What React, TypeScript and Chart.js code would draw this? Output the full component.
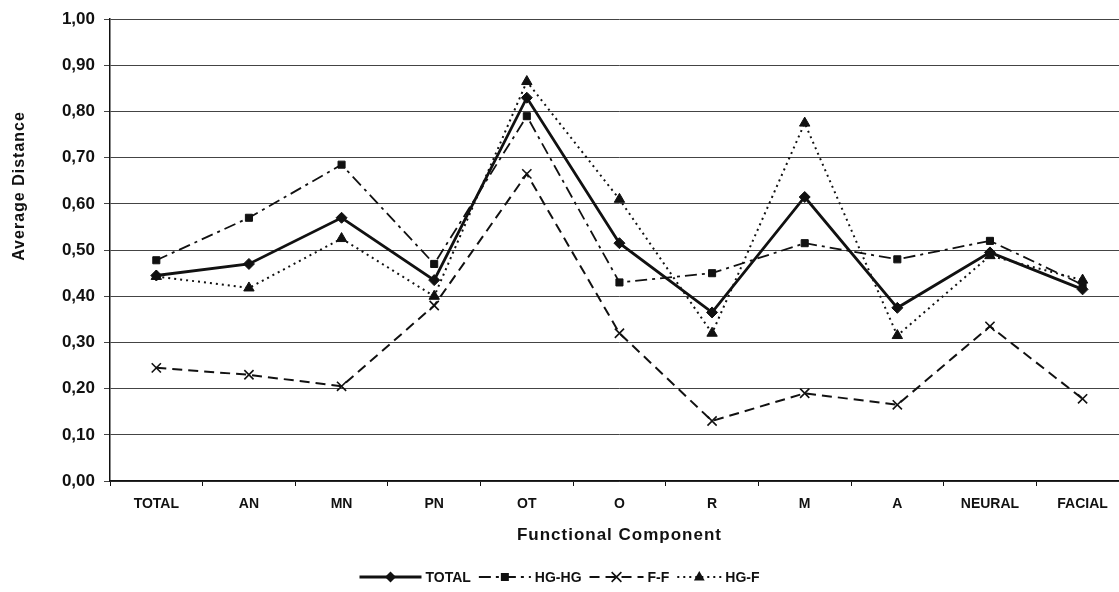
import React, { useEffect, useRef } from "react";
import { Chart, registerables } from "chart.js";

Chart.register(...registerables);

const categories = ["TOTAL", "AN", "MN", "PN", "OT", "O", "R", "M", "A", "NEURAL", "FACIAL"];
const totalValues = [0.445, 0.47, 0.57, 0.435, 0.83, 0.515, 0.365, 0.615, 0.375, 0.495, 0.415];
const hgHgValues = [0.478, 0.57, 0.685, 0.47, 0.79, 0.43, 0.45, 0.515, 0.48, 0.52, 0.425];
const ffValues = [0.245, 0.23, 0.205, 0.38, 0.665, 0.32, 0.13, 0.19, 0.165, 0.335, 0.178];
const hgFValues = [0.443, 0.418, 0.525, 0.4, 0.865, 0.61, 0.32, 0.775, 0.315, 0.488, 0.435];
const yTicks = [0, 0.1, 0.2, 0.3, 0.4, 0.5, 0.6, 0.7, 0.8, 0.9, 1.0];
const xTitle = "Functional Component";
const yTitle = "Average Distance";

const FONT = "'Liberation Sans', Arial, sans-serif";
const INK = "#111";
const CANVAS_W = 1137;
const VIEW_W = 1119;

const seriesDefs = [
  { label: "TOTAL", data: totalValues, dash: [], width: 2.8, style: "rectRot", radius: 5.5, sample: 62 },
  { label: "HG-HG", data: hgHgValues, dash: [12, 5, 3, 5], width: 1.8, style: "rect", radius: 5, sample: 52 },
  { label: "F-F", data: ffValues, dash: [10, 6], width: 2, style: "crossRot", radius: 6.5, sample: 54 },
  { label: "HG-F", data: hgFValues, dash: [2, 4], width: 2, style: "triangle", radius: 6, sample: 44 },
];

function drawMarker(ctx: CanvasRenderingContext2D, style: string, x: number, y: number, r: number) {
  ctx.beginPath();
  if (style === "rectRot") {
    ctx.moveTo(x, y - r);
    ctx.lineTo(x + r, y);
    ctx.lineTo(x, y + r);
    ctx.lineTo(x - r, y);
    ctx.closePath();
    ctx.fill();
  } else if (style === "rect") {
    ctx.rect(x - r * 0.8, y - r * 0.8, r * 1.6, r * 1.6);
    ctx.fill();
  } else if (style === "crossRot") {
    const d = r * 0.75;
    ctx.moveTo(x - d, y - d);
    ctx.lineTo(x + d, y + d);
    ctx.moveTo(x + d, y - d);
    ctx.lineTo(x - d, y + d);
    ctx.stroke();
  } else if (style === "triangle") {
    ctx.moveTo(x, y - r);
    ctx.lineTo(x + r * 0.9, y + r * 0.6);
    ctx.lineTo(x - r * 0.9, y + r * 0.6);
    ctx.closePath();
    ctx.fill();
  }
}

const annotationsPlugin = {
  id: "customTextAndLegend",
  afterDraw(chart: any) {
    const ctx = chart.ctx;
    const area = chart.chartArea;
    ctx.save();
    ctx.fillStyle = INK;
    // x title
    ctx.font = `bold 17px ${FONT}`;
    (ctx as any).letterSpacing = "1px";
    ctx.textAlign = "center";
    ctx.textBaseline = "middle";
    ctx.fillText(xTitle, (area.left + area.right) / 2, 535);
    // y title
    ctx.save();
    ctx.translate(20, 186);
    ctx.rotate(-Math.PI / 2);
    ctx.font = `bold 16px ${FONT}`;
    ctx.fillText(yTitle, 0, 0);
    ctx.restore();
    (ctx as any).letterSpacing = "0px";

    // legend
    const y = 577;
    ctx.font = `bold 14px ${FONT}`;
    ctx.textAlign = "left";
    const gap = 4;
    const itemGap = 8;
    const widths = seriesDefs.map((s) => s.sample + gap + ctx.measureText(s.label).width);
    const total = widths.reduce((a, b) => a + b, 0) + itemGap * (seriesDefs.length - 1);
    let x = VIEW_W / 2 - total / 2;
    seriesDefs.forEach((s, i) => {
      ctx.strokeStyle = INK;
      ctx.fillStyle = INK;
      ctx.lineWidth = s.width;
      ctx.setLineDash(s.dash);
      ctx.beginPath();
      ctx.moveTo(x, y);
      ctx.lineTo(x + s.sample, y);
      ctx.stroke();
      ctx.setLineDash([]);
      ctx.lineWidth = 1.6;
      drawMarker(ctx, s.style, x + s.sample / 2, y, s.radius);
      ctx.fillText(s.label, x + s.sample + gap, y + 1);
      x += widths[i] + itemGap;
    });
    ctx.restore();
  },
};

export default function App() {
  const ref = useRef<HTMLCanvasElement | null>(null);
  useEffect(() => {
    document.body.style.margin = "0";
    const canvas = ref.current!;
    const chart = new Chart(canvas, {
      type: "line",
      data: {
        labels: categories,
        datasets: seriesDefs.map((s) => ({
          label: s.label,
          data: s.data,
          borderColor: INK,
          backgroundColor: INK,
          borderWidth: s.width,
          borderDash: s.dash,
          pointStyle: s.style as any,
          pointRadius: s.radius,
          pointBorderWidth: s.style === "crossRot" ? 1.6 : 1,
          pointBorderColor: INK,
          pointBackgroundColor: INK,
          tension: 0,
          fill: false,
        })),
      },
      options: {
        responsive: false,
        animation: false,
        layout: { padding: { top: 8, right: 1, bottom: 38, left: 0 } },
        plugins: {
          legend: { display: false },
          tooltip: { enabled: false },
        },
        scales: {
          x: {
            offset: true,
            grid: {
              display: true,
              drawOnChartArea: false,
              drawTicks: true,
              tickLength: 5,
              color: INK,
              offset: true,
            },
            border: { color: INK, width: 1.5 },
            ticks: {
              color: INK,
              font: { family: FONT, size: 14, weight: "bold" },
              padding: 10,
              maxRotation: 0,
            },
            afterFit(scale: any) {
              scale.height = 73;
            },
          },
          y: {
            min: 0,
            max: 1,
            afterBuildTicks(scale: any) {
              scale.ticks = yTicks.map((v) => ({ value: v }));
            },
            grid: {
              color: "#444",
              lineWidth: 1,
              drawTicks: true,
              tickLength: 6,
            },
            border: { color: INK, width: 1.5 },
            ticks: {
              color: INK,
              font: { family: FONT, size: 17, weight: "bold" },
              padding: 9,
              callback: (v: any) => Number(v).toFixed(2).replace(".", ","),
            },
            afterFit(scale: any) {
              scale.width = 110;
            },
          },
        },
      },
      plugins: [annotationsPlugin],
    });
    return () => chart.destroy();
  }, []);
  return (
    <div style={{ width: VIEW_W, height: 592, position: "relative", overflow: "hidden" }}>
      <canvas ref={ref} width={CANVAS_W} height={592} style={{ display: "block" }} />
    </div>
  );
}
